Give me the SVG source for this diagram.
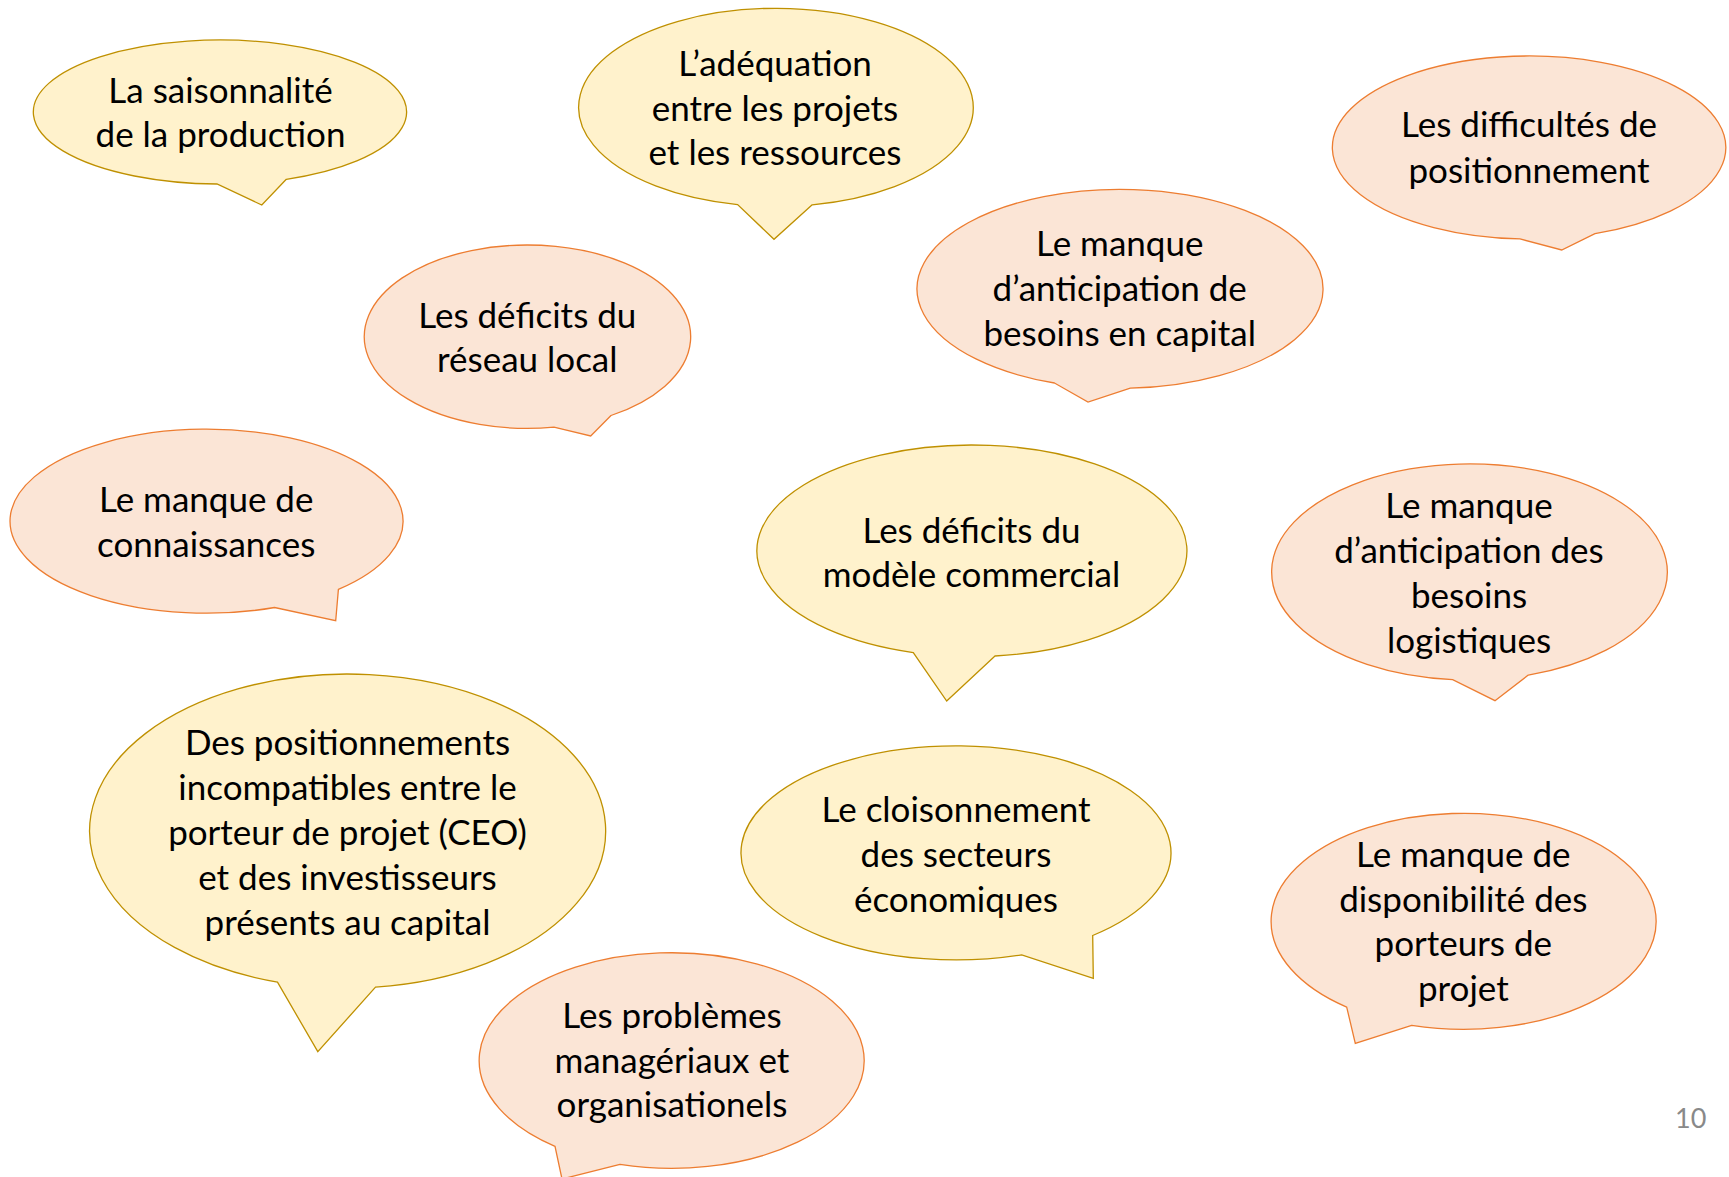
<svg xmlns="http://www.w3.org/2000/svg" width="1729" height="1177" viewBox="0 0 1729 1177">
<style>
.y{fill:#FFF2CC;stroke:#BF9000;stroke-width:1.3}
.p{fill:#FBE5D6;stroke:#ED7D31;stroke-width:1.3}
.t{font-family:Lato,"Liberation Sans",sans-serif;font-size:35px;fill:#000;text-anchor:middle}
.n{font-family:Lato,"Liberation Sans",sans-serif;font-size:27px;fill:#898989}
</style>
<rect width="1729" height="1177" fill="#FFFFFF"/>
<g id="connectors"></g>
<g id="n1">
<path class="y" d="M286.3,179.3 L261.8,205 L217,184 A186.6 72 0 1 1 286.3,179.3 Z"/>
<text class="t"><tspan x="220.5" y="102.7">La saisonnalité</tspan><tspan x="220.5" y="146.7">de la production</tspan></text>
</g>
<g id="n2">
<path class="y" d="M812.2,204.8 L774,239.3 L737.6,204.6 A197.3 99.1 0 1 1 812.2,204.8 Z"/>
<text class="t"><tspan x="775" y="76">L’adéquation</tspan><tspan x="775" y="120.5">entre les projets</tspan><tspan x="775" y="165">et les ressources</tspan></text>
</g>
<g id="n3">
<path class="p" d="M1130.3,388.2 L1088,402 L1054.5,383 A203 99.5 0 1 1 1130.3,388.2 Z"/>
<text class="t"><tspan x="1119.7" y="256">Le manque</tspan><tspan x="1119.7" y="301">d’anticipation de</tspan><tspan x="1119.7" y="346">besoins en capital</tspan></text>
</g>
<g id="n4">
<path class="p" d="M1595,233.7 L1561.7,250 L1520,238.9 A196.7 91.5 0 1 1 1595,233.7 Z"/>
<text class="t"><tspan x="1529" y="137">Les difficultés de</tspan><tspan x="1529" y="182.5">positionnement</tspan></text>
</g>
<g id="n5">
<path class="p" d="M611,415.5 L590.7,436 L554,427.2 A163.2 91.7 0 1 1 611,415.5 Z"/>
<text class="t"><tspan x="527.3" y="327.7">Les déficits du</tspan><tspan x="527.3" y="372.3">réseau local</tspan></text>
</g>
<g id="n6">
<path class="p" d="M338.4,589.4 L335.7,620.7 L274.6,607.5 A196.5 92 0 1 1 338.4,589.4 Z"/>
<text class="t"><tspan x="206.2" y="511.7">Le manque de</tspan><tspan x="206.2" y="556.7">connaissances</tspan></text>
</g>
<g id="n7">
<path class="y" d="M995,656 L946.7,701 L913.3,652.6 A215 105.8 0 1 1 995,656 Z"/>
<text class="t"><tspan x="971.5" y="542.7">Les déficits du</tspan><tspan x="971.5" y="586.7">modèle commercial</tspan></text>
</g>
<g id="n8">
<path class="p" d="M1528.3,675.1 L1495,700.7 L1452.7,679.6 A197.8 108 0 1 1 1528.3,675.1 Z"/>
<text class="t"><tspan x="1469" y="518.3">Le manque</tspan><tspan x="1469" y="563.3">d’anticipation des</tspan><tspan x="1469" y="608.3">besoins</tspan><tspan x="1469" y="653.3">logistiques</tspan></text>
</g>
<g id="n9">
<path class="y" d="M375.5,987.1 L317.8,1051.7 L277.5,982.1 A258 157 0 1 1 375.5,987.1 Z"/>
<text class="t"><tspan x="347.5" y="755">Des positionnements</tspan><tspan x="347.5" y="800">incompatibles entre le</tspan><tspan x="347.5" y="845">porteur de projet (CEO)</tspan><tspan x="347.5" y="890">et des investisseurs</tspan><tspan x="347.5" y="934.5">présents au capital</tspan></text>
</g>
<g id="n10">
<path class="y" d="M1092.7,935.5 L1093.3,978.3 L1021.7,954.8 A215 107 0 1 1 1092.7,935.5 Z"/>
<text class="t"><tspan x="956" y="821.7">Le cloisonnement</tspan><tspan x="956" y="866.7">des secteurs</tspan><tspan x="956" y="911.7">économiques</tspan></text>
</g>
<g id="n11">
<path class="p" d="M1411.7,1025.3 L1355.3,1043.3 L1346.7,1007.1 A192.5 108 0 1 1 1411.7,1025.3 Z"/>
<text class="t"><tspan x="1463.3" y="866.7">Le manque de</tspan><tspan x="1463.3" y="911.7">disponibilité des</tspan><tspan x="1463.3" y="956">porteurs de</tspan><tspan x="1463.3" y="1000.7">projet</tspan></text>
</g>
<g id="n12">
<path class="p" d="M620,1164.4 L562,1179 L555,1146.3 A192.5 107.8 0 1 1 620,1164.4 Z"/>
<text class="t"><tspan x="672" y="1028.3">Les problèmes</tspan><tspan x="672" y="1072.7">managériaux et</tspan><tspan x="672" y="1116.7">organisationels</tspan></text>
</g>
<text id="page" class="n" x="1675" y="1128">10</text>
</svg>
